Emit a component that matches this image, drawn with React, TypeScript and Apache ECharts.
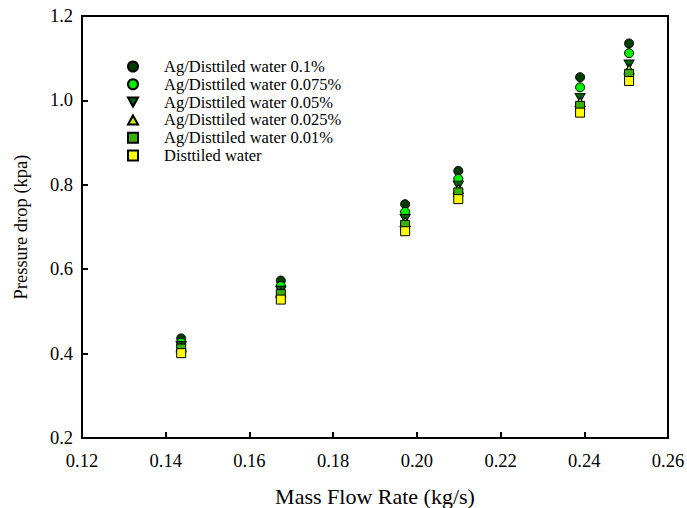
import React, { useEffect, useRef } from "react";
import * as echarts from "echarts";

const flowRates = [0.1437, 0.1675, 0.1972, 0.2099, 0.239, 0.2507];
const ag01 = [0.436, 0.573, 0.754, 0.833, 1.055, 1.135];
const ag0075 = [0.426, 0.56, 0.736, 0.814, 1.031, 1.112];
const ag005 = [0.418, 0.549, 0.719, 0.798, 1.006, 1.085];
const ag0025 = [0.415, 0.545, 0.712, 0.79, 0.996, 1.074];
const ag001 = [0.412, 0.541, 0.705, 0.782, 0.987, 1.063];
const water = [0.401, 0.528, 0.69, 0.766, 0.971, 1.046];

const seriesNames = [
  "Ag/Disttiled water 0.1%",
  "Ag/Disttiled water 0.075%",
  "Ag/Disttiled water 0.05%",
  "Ag/Disttiled water 0.025%",
  "Ag/Disttiled water 0.01%",
  "Disttiled water",
];
const xTicks = { min: 0.12, max: 0.26, step: 0.02 };
const yTicks = { min: 0.2, max: 1.2, step: 0.2 };

const FONT = "'Liberation Serif', 'Times New Roman', serif";

export default function App() {
  const ref = useRef<HTMLDivElement>(null);
  useEffect(() => {
    if (!ref.current) return;
    const chart = echarts.init(ref.current, null, { renderer: "svg" });
    const values = [ag01, ag0075, ag005, ag0025, ag001, water];
    const downTri = "path://M0,0 L10,0 L5,9 Z";
    const upTri = "path://M5,0 L10,9 L0,9 Z";
    const symbols = ["circle", "circle", downTri, upTri, "rect", "rect"];
    const colors = ["#003c00", "#00f000", "#006400", "#c8f000", "#3cb000", "#ffff00"];
    const sizes: any[] = [9, 9, [10, 9], [10, 9], 9, 9];
    const series = values.map((v, i) => ({
      type: "scatter",
      name: seriesNames[i],
      data: v.map((y, j) => [flowRates[j], y]),
      symbol: symbols[i],
      symbolSize: sizes[i],
      itemStyle: { color: colors[i], borderColor: "#000", borderWidth: 1, opacity: 1 },
    }));
    chart.setOption({
      animation: false,
      backgroundColor: "#fff",
      grid: {
        left: 82, right: 19, top: 16, bottom: 70,
        outerBoundsMode: "none",
        containLabel: false,
        show: true, borderColor: "#000", borderWidth: 2,
      },
      legend: {
        orient: "vertical",
        left: 122,
        top: 53,
        itemWidth: 10,
        itemHeight: 10,
        itemGap: 0.8,
        data: seriesNames,
        textStyle: { fontFamily: FONT, fontSize: 16.5, color: "#000", lineHeight: 15, padding: [0, 0, 0, 21] },
      },
      xAxis: {
        type: "value",
        min: xTicks.min,
        max: xTicks.max,
        interval: xTicks.step,
        name: "Mass Flow Rate (kg/s)",
        nameLocation: "middle",
        nameGap: 47,
        nameTextStyle: { fontFamily: FONT, fontSize: 22, color: "#000" },
        axisLine: { lineStyle: { color: "#000", width: 2 } },
        axisTick: { inside: true, length: 6, lineStyle: { color: "#000", width: 2 } },
        axisLabel: { fontFamily: FONT, fontSize: 18.5, color: "#000", margin: 13, formatter: (v: number) => v.toFixed(2) },
        splitLine: { show: false },
      },
      yAxis: {
        type: "value",
        min: yTicks.min,
        max: yTicks.max,
        interval: yTicks.step,
        name: "Pressure drop (kpa)",
        nameLocation: "middle",
        nameGap: 52,
        nameTextStyle: { fontFamily: FONT, fontSize: 18.5, color: "#000" },
        axisLine: { lineStyle: { color: "#000", width: 2 } },
        axisTick: { inside: true, length: 6, lineStyle: { color: "#000", width: 2 } },
        axisLabel: { fontFamily: FONT, fontSize: 18.5, color: "#000", margin: 9, formatter: (v: number) => v.toFixed(1) },
        splitLine: { show: false },
      },
      series,
    });
    return () => chart.dispose();
  }, []);
  return <div ref={ref} style={{ width: 687, height: 508, position: "absolute", left: 0, top: 0 }} />;
}
